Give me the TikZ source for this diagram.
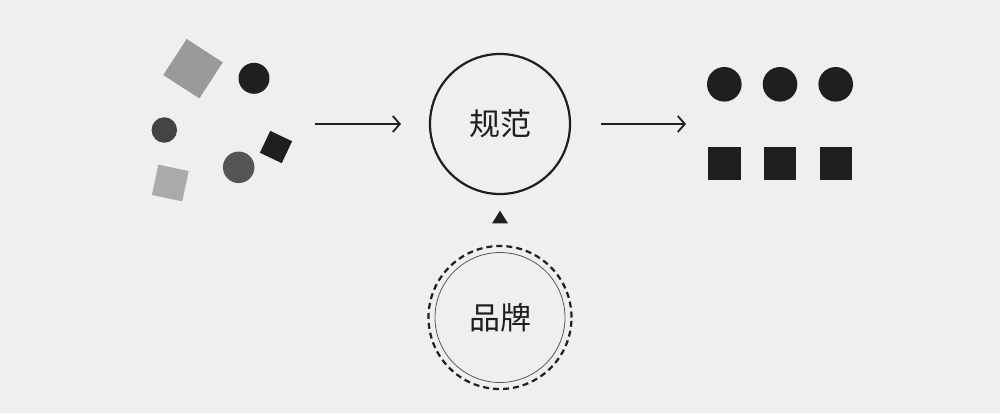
\documentclass[tikz,border=0pt]{standalone}
\usepackage{fontspec}
\newfontfamily\cjk{Noto Sans CJK SC}
\usetikzlibrary{arrows.meta,shapes.geometric}
\definecolor{bg}{HTML}{EFEFEF}
\definecolor{ink}{HTML}{1F1F1F}
\definecolor{lgray}{HTML}{9A9A9A}
\definecolor{lgray2}{HTML}{AAAAAA}
\definecolor{dgray}{HTML}{444444}
\definecolor{mgray}{HTML}{555555}
\begin{document}
\begin{tikzpicture}[x=0.5pt,y=-0.5pt,
  dot/.style={circle,inner sep=0pt,minimum size=#1*0.5pt,draw=none},
  sq/.style={rectangle,inner sep=0pt,minimum size=#1*0.5pt,draw=none},
  flow/.style={draw=ink,line width=0.9pt,-{Straight Barb[length=3.5pt,width=8pt,line width=0.9pt]}},
  bigring/.style={circle,draw=ink,line width=1.1pt,minimum size=70pt,inner sep=0pt,font=\cjk\fontsize{15.5pt}{15.5pt}\selectfont,text=ink}]
\fill[bg] (0,0) rectangle (1000,413);
\useasboundingbox (0,0) rectangle (1000,413);
% scattered shapes
\node[sq=43,fill=lgray,rotate=-33] (s1) at (193,68.7) {};
\node[dot=31,fill=ink] (c1) at (254,78.3) {};
\node[dot=25.5,fill=dgray] (c2) at (164.3,130) {};
\node[sq=24.2,fill=ink,rotate=-25.4] (s2) at (276,147) {};
\node[dot=31.5,fill=mgray] (c3) at (238.7,167.3) {};
\node[sq=31,fill=lgray2,rotate=-12] (s3) at (170.3,183) {};
% centre
\node[bigring] (norm) at (500,124) {规范};
\coordinate (a1s) at (315,124);
\coordinate (a1e) at (401,124);
\coordinate (a2s) at (601,124);
\coordinate (a2e) at (686,124);
\draw[flow] (a1s) -- (a1e);
\draw[flow] (a2s) -- (a2e);
% triangle
\node[isosceles triangle,isosceles triangle apex angle=64,shape border rotate=90,fill=ink,inner sep=0pt,minimum height=6.3pt,minimum width=8pt] (tri) at (500,219) {};
% brand
\node[circle,draw=ink,dashed,dash pattern=on 3pt off 2pt,line width=1.1pt,minimum size=71.5pt,inner sep=0pt] (brandout) at (500,317.5) {};
\node[circle,draw=mgray,line width=0.4pt,minimum size=65pt,inner sep=0pt,font=\cjk\fontsize{15.5pt}{15.5pt}\selectfont,text=ink] (brand) at (500,317.5) {品牌};
% ordered grid
\foreach \x/\n in {724.3/1,780/2,835.7/3}{
  \node[dot=34.6,fill=ink] (g\n) at (\x,84.3) {};
  \node[sq=32.4,fill=ink] (q\n) at (\x,163.3) {};
}
\end{tikzpicture}
\end{document}
